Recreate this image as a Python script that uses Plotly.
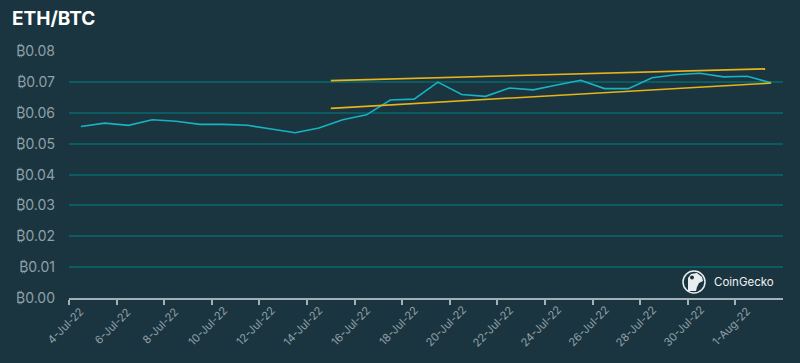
import plotly.graph_objects as go
import pandas as pd

# Data
dates = pd.date_range("2022-07-04 12:00", "2022-08-02 12:00", freq="D")
eth_btc = [0.0556, 0.0567, 0.0560, 0.0578, 0.0573, 0.0563, 0.0563, 0.0560, 0.0548, 0.0536,
           0.0551, 0.0578, 0.0594, 0.0642, 0.0645, 0.0700, 0.0660, 0.0654, 0.0681, 0.0675,
           0.0691, 0.0706, 0.0679, 0.0679, 0.0714, 0.0724, 0.0729, 0.0717, 0.0719, 0.0698]
upper_x = ["2022-07-15 00:00", "2022-08-02 06:00"]
upper_y = [0.0705, 0.0743]
lower_x = ["2022-07-15 00:00", "2022-08-02 12:00"]
lower_y = [0.0615, 0.0697]
y_ticks = [0.00, 0.01, 0.02, 0.03, 0.04, 0.05, 0.06, 0.07, 0.08]
y_labels = ["₿0.00", "₿0.01", "₿0.02", "₿0.03", "₿0.04", "₿0.05", "₿0.06", "₿0.07", "₿0.08"]
x_ticks = ["2022-07-04", "2022-07-06", "2022-07-08", "2022-07-10", "2022-07-12", "2022-07-14",
           "2022-07-16", "2022-07-18", "2022-07-20", "2022-07-22", "2022-07-24", "2022-07-26",
           "2022-07-28", "2022-07-30", "2022-08-01"]
x_labels = ["4-Jul-22", "6-Jul-22", "8-Jul-22", "10-Jul-22", "12-Jul-22", "14-Jul-22",
            "16-Jul-22", "18-Jul-22", "20-Jul-22", "22-Jul-22", "24-Jul-22", "26-Jul-22",
            "28-Jul-22", "30-Jul-22", "1-Aug-22"]

BG = "#1b3540"
GRID = "#0b5b62"
TXT = "#8fa0a8"

fig = go.Figure()
fig.add_trace(go.Scatter(x=dates, y=eth_btc, mode="lines",
                         line=dict(color="#16b3c2", width=1.6), hoverinfo="skip"))
fig.add_trace(go.Scatter(x=upper_x, y=upper_y, mode="lines",
                         line=dict(color="#e8b419", width=1.6), hoverinfo="skip"))
fig.add_trace(go.Scatter(x=lower_x, y=lower_y, mode="lines",
                         line=dict(color="#e8b419", width=1.6), hoverinfo="skip"))

L, R, T, B = 69, 17, 51, 65
W, H = 800, 363
pw, ph = W - L - R, H - T - B

def px2paper(px, py):
    return (px - L) / pw, (H - B - py) / ph

# logo circle
cx, cy, r = 694, 282, 11
x0, y0 = px2paper(cx - r, cy + r)
x1, y1 = px2paper(cx + r, cy - r)
shapes = [dict(type="circle", xref="paper", yref="paper", x0=x0, y0=y0, x1=x1, y1=y1,
               line=dict(color="#e8eef0", width=1.5))]
# gecko head (rough)
pts = [(688, 291), (688, 278), (691, 274), (697, 273), (702, 277), (703, 281),
       (699, 283), (697, 287), (696, 291)]
path = "M " + " L ".join(f"{px2paper(a, b)[0]},{px2paper(a, b)[1]}" for a, b in pts) + " Z"
shapes.append(dict(type="path", xref="paper", yref="paper", path=path,
                   fillcolor="#e8eef0", line=dict(color="#e8eef0", width=0)))
ex, ey = px2paper(692, 277.5)
shapes.append(dict(type="circle", xref="paper", yref="paper",
                   x0=ex - 2 / pw, x1=ex + 2 / pw, y0=ey - 2 / ph, y1=ey + 2 / ph,
                   fillcolor=BG, line=dict(width=0)))

tx, ty = px2paper(712, 282)

annotations = [dict(text="CoinGecko", xref="paper", yref="paper", x=tx, y=ty,
                    xanchor="left", yanchor="middle", showarrow=False,
                    font=dict(size=11.5, color="#eef2f3"))]
_, lab_y = px2paper(0, 326)
for d, lab in zip(x_ticks, x_labels):
    annotations.append(dict(text=lab, x=d, xref="x", y=lab_y, yref="paper",
                            xanchor="center", yanchor="middle", xshift=-4,
                            textangle=-45, showarrow=False,
                            font=dict(size=11, color=TXT)))

fig.update_layout(
    width=W, height=H,
    paper_bgcolor=BG, plot_bgcolor=BG,
    margin=dict(l=L, r=R, t=T, b=B),
    showlegend=False,
    font=dict(family="Inter, Roboto, sans-serif", color=TXT, size=12),
    title=dict(text="<b>ETH/BTC</b>", x=12 / W, xanchor="left", y=1 - 18.5 / H, yanchor="middle",
               font=dict(size=19, color="#ffffff", family="Inter, Roboto, sans-serif")),
    xaxis=dict(type="date", range=["2022-07-04", "2022-08-03"], automargin=False,
               tickvals=x_ticks, showticklabels=False,
               showgrid=False, zeroline=False,
               showline=True, linecolor="#a3b1b7", linewidth=1.5,
               ticks="outside", ticklen=5, tickcolor="#a3b1b7", tickwidth=1.5),
    yaxis=dict(range=[0, 0.0801], tickvals=y_ticks, ticktext=y_labels, automargin=False,
               showgrid=True, gridcolor=GRID, gridwidth=1.5, zeroline=False,
               showline=False, ticks="", ticklabelstandoff=13,
               tickfont=dict(size=14, color=TXT)),
    shapes=shapes,
    annotations=annotations,
)

fig.write_html("out.html", config={"displayModeBar": False},
               post_script="document.body.style.margin='0';")
